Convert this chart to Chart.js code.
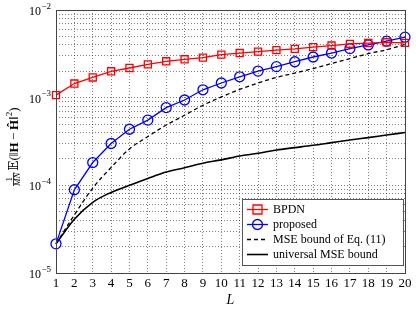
<!DOCTYPE html>
<html>
<head>
<meta charset="utf-8">
<script src="https://cdn.jsdelivr.net/npm/chart.js@4/dist/chart.umd.min.js"></script>
<style>
html,body{margin:0;padding:0;background:#fff;}
#wrap{width:416px;height:309px;position:relative;}
</style>
</head>
<body>
<div id="wrap"><canvas id="c"></canvas></div>
<script>
const L = [1,2,3,4,5,6,7,8,9,10,11,12,13,14,15,16,17,18,19,20];
const bpdn = [1.07e-3,1.45e-3,1.70e-3,2.0e-3,2.18e-3,2.4e-3,2.6e-3,2.74e-3,2.86e-3,3.1e-3,3.23e-3,3.35e-3,3.48e-3,3.6e-3,3.77e-3,3.93e-3,4.1e-3,4.2e-3,4.28e-3,4.22e-3];
const proposed = [2.15e-5,8.9e-5,1.82e-4,3.0e-4,4.36e-4,5.55e-4,7.7e-4,9.4e-4,1.23e-3,1.47e-3,1.73e-3,2.01e-3,2.26e-3,2.57e-3,2.91e-3,3.23e-3,3.63e-3,4.0e-3,4.41e-3,4.9e-3];
const mseBound = [2.15e-5,4.6e-5,9.3e-5,1.6e-4,2.6e-4,3.6e-4,4.87e-4,6.3e-4,8.2e-4,1.02e-3,1.24e-3,1.47e-3,1.7e-3,1.91e-3,2.15e-3,2.45e-3,2.79e-3,3.18e-3,3.52e-3,4.05e-3];
const universal = [2.15e-5,4.1e-5,6.4e-5,8.3e-5,1.0e-4,1.2e-4,1.42e-4,1.59e-4,1.79e-4,1.95e-4,2.16e-4,2.32e-4,2.53e-4,2.69e-4,2.86e-4,3.07e-4,3.29e-4,3.5e-4,3.75e-4,4.0e-4];
const seriesNames = ['BPDN','proposed','MSE bound of Eq. (11)','universal MSE bound'];
const yDecades = [-5,-4,-3,-2];
const xTitle = 'L';

const SERIF = '"Liberation Serif", "DejaVu Serif", serif';

const customDraw = {
  id: 'customDraw',
  afterDraw(chart) {
    const ctx = chart.ctx;
    const a = chart.chartArea;
    const ys = chart.scales.y;
    ctx.save();
    // plot frame
    ctx.strokeStyle = '#444';
    ctx.lineWidth = 1;
    ctx.setLineDash([]);
    ctx.strokeRect(Math.round(a.left)+0.5, Math.round(a.top)+0.5, Math.round(a.right-a.left), Math.round(a.bottom-a.top));

    // y tick labels (powers of ten)
    ctx.fillStyle = '#000';
    ctx.textBaseline = 'alphabetic';
    yDecades.forEach(k => {
      const py = ys.getPixelForValue(Math.pow(10,k));
      const sup = '\u2212' + Math.abs(k);
      ctx.font = '9px ' + SERIF;
      ctx.textAlign = 'right';
      const sw = ctx.measureText(sup).width;
      ctx.fillText(sup, 51, py - 1.5);
      ctx.font = '12px ' + SERIF;
      ctx.fillText('10', 51 - sw - 0.5, py + 5);
    });

    // y axis title (rotated)
    ctx.save();
    ctx.translate(18, 186);
    ctx.rotate(-Math.PI/2);
    ctx.textAlign = 'left';
    let x = 0;
    // fraction 1/MN
    ctx.font = 'italic 9px ' + SERIF;
    const mnW = ctx.measureText('MN').width;
    ctx.fillText('MN', x, 1.5);
    ctx.font = '9px ' + SERIF;
    const oneW = ctx.measureText('1').width;
    ctx.fillText('1', x + (mnW-oneW)/2, -6.5);
    ctx.fillRect(x, -5, mnW, 0.8);
    x += mnW + 2;
    const parts = [
      ['13px ', '\uD835\uDD3C', 0],
      ['13px ', '(\u2016', 0],
      ['bold 13px ', 'H', 0],
      ['13px ', '\u2009\u2212\u2009', 0],
      ['bold 13px ', '\u0124', 0],
      ['13px ', '\u2016', 0],
      ['9px ', '2', -6],
      ['13px ', ')', 0]
    ];
    parts.forEach(p => {
      ctx.font = p[0] + SERIF;
      ctx.fillText(p[1], x, p[2]);
      x += ctx.measureText(p[1]).width;
    });
    ctx.restore();

    // legend
    const lx = 242, ly = 199, lw = 161, lh = 66;
    ctx.fillStyle = '#fff';
    ctx.fillRect(lx, ly, lw, lh);
    ctx.strokeStyle = '#555';
    ctx.lineWidth = 1;
    ctx.strokeRect(lx+0.5, ly+0.5, lw, lh);
    chart.data.datasets.forEach((ds, i) => {
      const cy = ly + 10.5 + i*15;
      ctx.strokeStyle = ds.borderColor;
      ctx.lineWidth = ds.borderWidth;
      ctx.setLineDash(ds.borderDash || []);
      ctx.beginPath();
      ctx.moveTo(247, cy); ctx.lineTo(268, cy);
      ctx.stroke();
      ctx.setLineDash([]);
      if (ds.pointRadius > 0) {
        ctx.lineWidth = ds.pointBorderWidth;
        ctx.strokeStyle = ds.pointBorderColor;
        ctx.beginPath();
        if (ds.pointStyle === 'rect') {
          ctx.rect(257.5 - 4.5, cy - 4.5, 9, 9);
        } else {
          ctx.arc(257.5, cy, 5, 0, Math.PI*2);
        }
        ctx.stroke();
      }
      ctx.fillStyle = '#000';
      ctx.font = '12px ' + SERIF;
      ctx.textAlign = 'left';
      ctx.textBaseline = 'middle';
      ctx.fillText(ds.label, 273, cy + 0.5);
    });
    ctx.restore();
  }
};

const gridCol = 'rgba(0,0,0,0.5)';

new Chart(document.getElementById('c'), {
  type: 'line',
  data: {
    labels: L.map(String),
    datasets: [
      {label: seriesNames[0], data: bpdn, borderColor: '#ff0000', borderWidth: 1.3, pointStyle: 'rect', pointRadius: 5, pointBorderWidth: 1.3, pointBorderColor: '#ff0000', pointBackgroundColor: 'rgba(0,0,0,0)', fill: false, tension: 0},
      {label: seriesNames[1], data: proposed, borderColor: '#0000ff', borderWidth: 1.3, pointStyle: 'circle', pointRadius: 5, pointBorderWidth: 1.3, pointBorderColor: '#0000ff', pointBackgroundColor: 'rgba(0,0,0,0)', fill: false, tension: 0},
      {label: seriesNames[2], data: mseBound, borderColor: '#000', borderWidth: 1.3, borderDash: [4,3], pointRadius: 0, fill: false, cubicInterpolationMode: 'monotone'},
      {label: seriesNames[3], data: universal, borderColor: '#000', borderWidth: 1.6, pointRadius: 0, fill: false, cubicInterpolationMode: 'monotone'}
    ]
  },
  options: {
    responsive: true,
    maintainAspectRatio: false,
    animation: false,
    devicePixelRatio: 1,
    layout: {padding: {top: 10, right: 11, bottom: 0, left: 0}},
    plugins: {legend: {display: false}, tooltip: {enabled: false}},
    scales: {
      x: {
        type: 'category',
        offset: false,
        grid: {color: gridCol, lineWidth: 1, drawTicks: false},
        border: {display: false, dash: [1,2]},
        ticks: {color: '#000', font: {family: SERIF, size: 13}, padding: 3, autoSkip: false, maxRotation: 0},
        title: {display: true, text: xTitle, color: '#000', font: {family: SERIF, size: 14, style: 'italic'}, padding: {top: 0, bottom: 0}},
        afterFit(s) { s.height = 36; }
      },
      y: {
        type: 'logarithmic',
        min: 1e-5,
        max: 1e-2,
        grid: {color: gridCol, lineWidth: 1, drawTicks: false},
        border: {display: false, dash: [1,2]},
        ticks: {display: false, autoSkip: false},
        afterBuildTicks(s) {
          const t = [];
          for (let e = -5; e < -2; e++) {
            for (let m = 1; m <= 9; m++) t.push({value: m*Math.pow(10,e), major: m===1});
          }
          t.push({value: 1e-2, major: true});
          s.ticks = t;
        },
        afterFit(s) { s.width = 56; }
      }
    }
  },
  plugins: [customDraw]
});
</script>
</body>
</html>
